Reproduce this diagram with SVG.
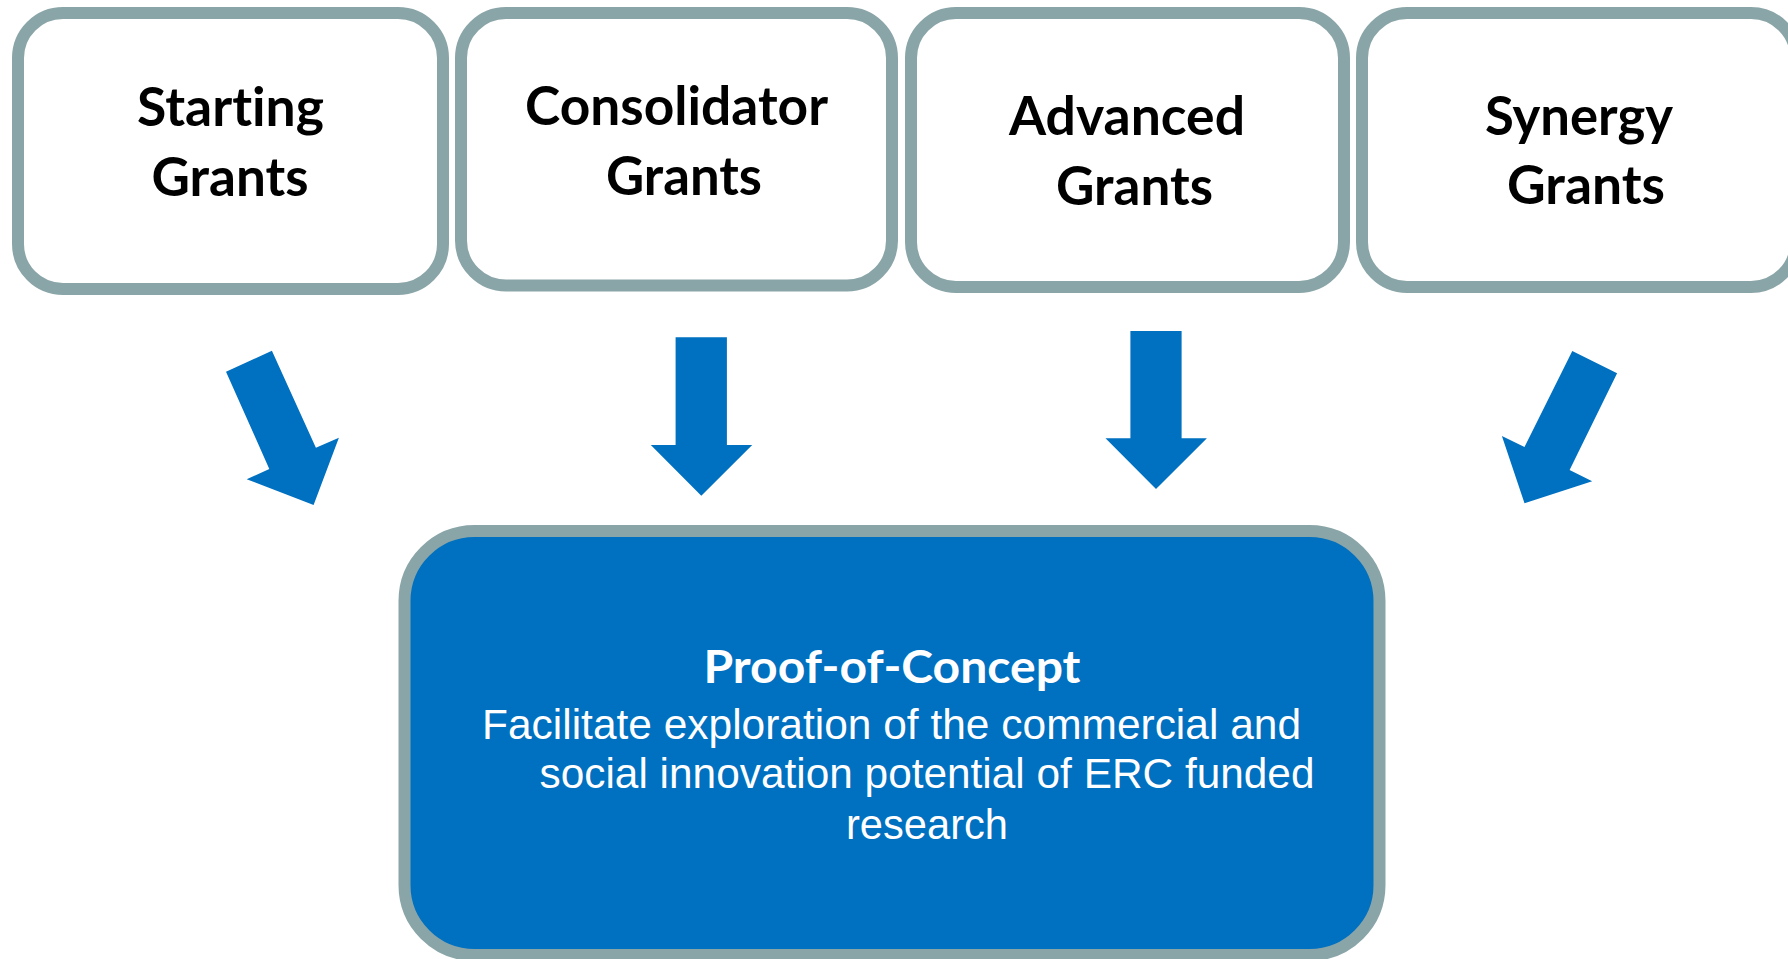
<svg xmlns="http://www.w3.org/2000/svg" width="1788" height="959" viewBox="0 0 1788 959">
<style>
.box{fill:#FFFFFF;stroke:#8AA5A8;stroke-width:12}
.main{fill:#0070C0;stroke:#8AA5A8;stroke-width:12}
.lbl{font-family:Lato,"Open Sans",sans-serif;font-weight:bold;font-size:53px;fill:#000000;text-anchor:middle;font-variant-ligatures:none;font-feature-settings:"liga" 0,"dlig" 0}
.ttl{font-family:Lato,"Open Sans",sans-serif;font-weight:bold;font-size:46px;fill:#FFFFFF;text-anchor:middle;font-variant-ligatures:none}
.body{font-family:"Liberation Sans",Arial,sans-serif;font-size:42px;fill:#FFFFFF}
.arr{fill:#0070C0}
</style>
<rect width="1788" height="959" fill="#FFFFFF"/>
<g id="starting">
<rect class="box" x="18" y="13" width="425" height="276" rx="45"/>
<text class="lbl" x="230.5" y="126" textLength="187" lengthAdjust="spacingAndGlyphs">Starting</text>
<text class="lbl" x="230" y="196" textLength="157" lengthAdjust="spacingAndGlyphs">Grants</text>
</g>
<g id="consolidator">
<rect class="box" x="461" y="13" width="431" height="272.5" rx="45"/>
<text class="lbl" x="676.5" y="125" textLength="303" lengthAdjust="spacingAndGlyphs">Consolidator</text>
<text class="lbl" x="684" y="195" textLength="156" lengthAdjust="spacingAndGlyphs">Grants</text>
</g>
<g id="advanced">
<rect class="box" x="911" y="13" width="433" height="274" rx="45"/>
<text class="lbl" x="1127" y="135" textLength="236" lengthAdjust="spacingAndGlyphs">Advanced</text>
<text class="lbl" x="1134.5" y="205" textLength="157" lengthAdjust="spacingAndGlyphs">Grants</text>
</g>
<g id="synergy">
<rect class="box" x="1362" y="13" width="434" height="274" rx="45"/>
<text class="lbl" x="1579" y="135" textLength="188" lengthAdjust="spacingAndGlyphs">Synergy</text>
<text class="lbl" x="1586" y="204" textLength="158" lengthAdjust="spacingAndGlyphs">Grants</text>
</g>
<g id="proof-of-concept">
<rect class="main" x="404.5" y="531" width="975" height="424" rx="70"/>
<text class="ttl" x="892" y="683" textLength="377" lengthAdjust="spacingAndGlyphs">Proof-of-Concept</text>
<text class="body" x="482" y="739" textLength="819" lengthAdjust="spacingAndGlyphs">Facilitate exploration of the commercial and</text>
<text class="body" x="539.5" y="788" textLength="775" lengthAdjust="spacingAndGlyphs">social innovation potential of ERC funded</text>
<text class="body" x="927" y="839" text-anchor="middle" textLength="162" lengthAdjust="spacingAndGlyphs">research</text>
</g>
<g id="connectors">
<polygon class="arr" points="226,371.7 271.9,350.7 315.9,447.7 338.9,437.7 313.6,505 246.7,479.3 269.3,469"/>
<polygon class="arr" points="675.6,337.3 726.9,337.3 726.9,445 752.2,445 701.3,495.7 650.8,445 675.6,445"/>
<polygon class="arr" points="1130.4,331 1181.6,331 1181.6,438.3 1206.9,438.3 1156,489 1105.5,438.3 1130.4,438.3"/>
<polygon class="arr" points="1572.3,351 1617.1,373.3 1569.6,470 1592.2,481.3 1524.5,503.3 1501.9,436 1524.5,447"/>
</g>
</svg>
